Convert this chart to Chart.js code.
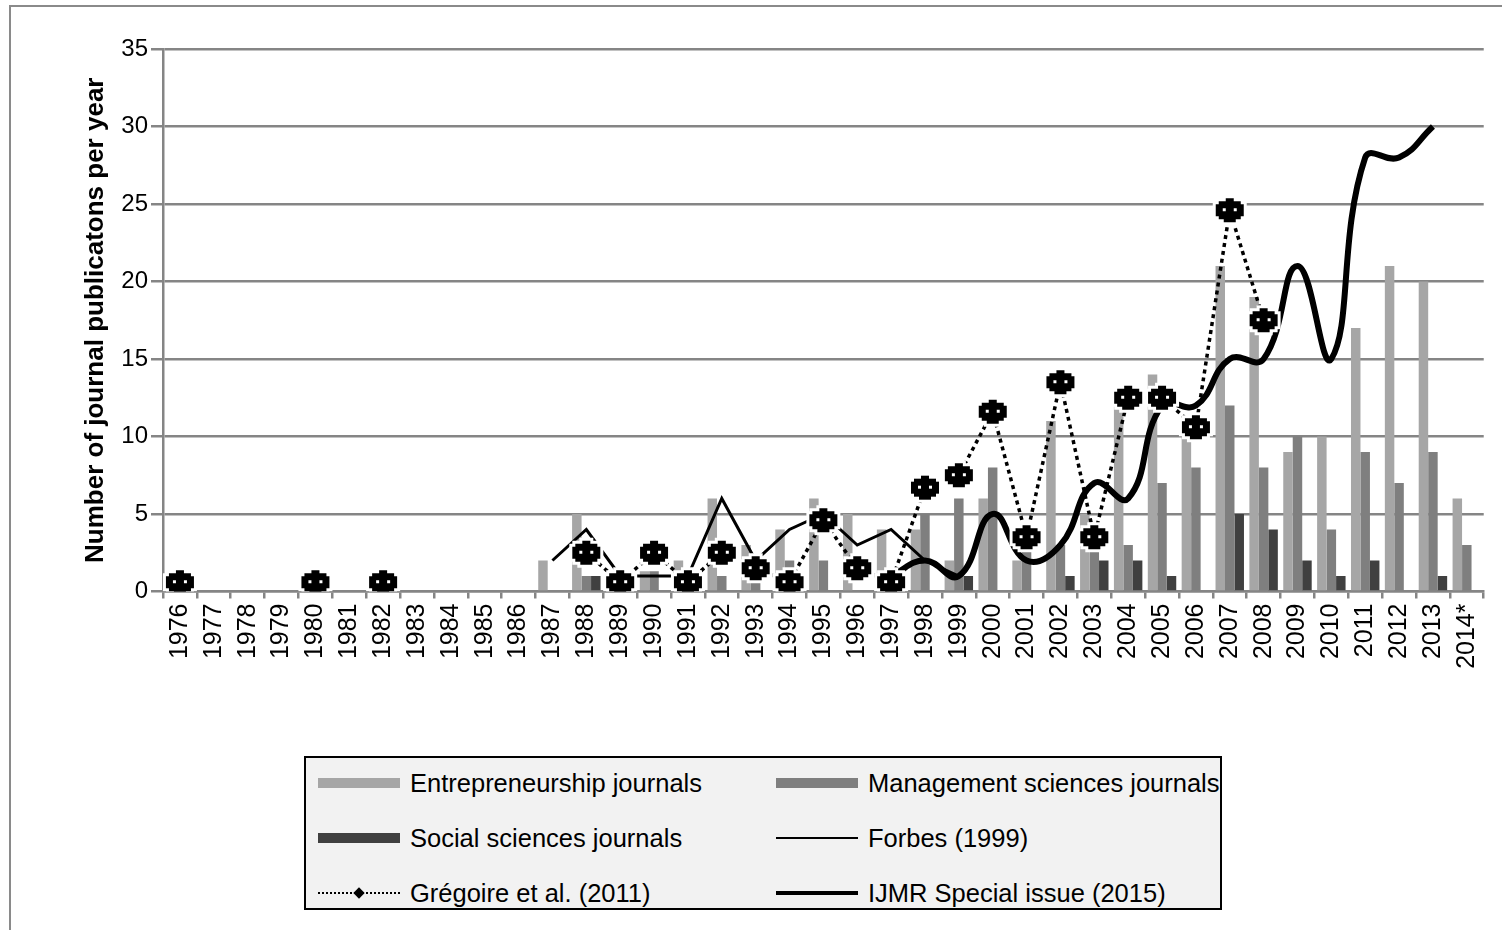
<!DOCTYPE html>
<html>
<head>
<meta charset="utf-8">
<script src="https://cdn.jsdelivr.net/npm/chart.js@4/dist/chart.umd.min.js"></script>
<style>
html,body{margin:0;padding:0;background:#fff;overflow:hidden;}
#wrap{position:relative;width:1502px;height:930px;font-family:"Liberation Sans",Arial,sans-serif;overflow:hidden;}
#frame{position:absolute;left:9px;top:5px;width:1500px;height:1000px;border:2px solid #8a8a8a;}
#c{position:absolute;left:0;top:0;}
#legend{position:absolute;left:304px;top:756px;width:914px;height:150px;background:#f2f2f2;border:2px solid #000;overflow:hidden;}
.item{position:absolute;height:30px;display:flex;align-items:center;font-size:25.5px;color:#000;white-space:nowrap;}
.sw{position:relative;width:82px;height:30px;margin-right:10px;flex:none;}
.bar{position:absolute;left:0;top:10px;width:82px;height:10px;}
.ln{position:absolute;left:0;width:82px;height:0;}
.dot{position:absolute;left:37px;top:11px;width:8px;height:8px;background:#000;transform:rotate(45deg);}
</style>
</head>
<body>
<div id="wrap">
  <div id="frame"></div>
  <canvas id="c" width="1502" height="930"></canvas>
  <div id="legend">
    <div class="item" style="left:12px;top:10px;"><div class="sw"><div class="bar" style="background:#a6a6a6"></div></div>Entrepreneurship journals</div>
    <div class="item" style="left:470px;top:10px;"><div class="sw"><div class="bar" style="background:#7f7f7f"></div></div>Management sciences journals</div>
    <div class="item" style="left:12px;top:65px;"><div class="sw"><div class="bar" style="background:#404040"></div></div>Social sciences journals</div>
    <div class="item" style="left:470px;top:65px;"><div class="sw"><div class="ln" style="top:14px;border-top:2.5px solid #000"></div></div>Forbes (1999)</div>
    <div class="item" style="left:12px;top:120px;"><div class="sw"><div class="ln" style="top:14px;border-top:2px dotted #000"></div><div class="dot"></div></div>Grégoire et al. (2011)</div>
    <div class="item" style="left:470px;top:120px;"><div class="sw"><div class="ln" style="top:13px;border-top:4.5px solid #000"></div></div>IJMR Special issue (2015)</div>
  </div>
</div>
<script>
const years = ['1976','1977','1978','1979','1980','1981','1982','1983','1984','1985','1986','1987','1988','1989','1990','1991','1992','1993','1994','1995','1996','1997','1998','1999','2000','2001','2002','2003','2004','2005','2006','2007','2008','2009','2010','2011','2012','2013','2014*'];

//                        1976 ........................................ 1986 | 1987 ...
const entrepreneurship = [0,0,0,0,0,0,0,0,0,0,0, 2,5,1,1.3,2,6,3,4,6,5,4,4,2,6,2,11,5,12,14,10,21,19,9,10,17,21,20,6];
const management       = [0,0,0,0,0,0,0,0,0,0,0, 0,1,0,1.3,0,1,1,2,2,0,0,5,6,8,3,3,3,3,7,8,12,8,10,4,9,7,9,3];
const social           = [0,0,0,0,0,0,0,0,0,0,0, 0,1,0,0,0,0,0,0,0,0,0,0,1,0,0,1,2,2,1,0,5,4,2,1,2,0,1,0];
const forbes           = [null,null,null,null,null,null,null,null,null,null,null, 2,4,1,1,1,6,2,4,5,3,4,2,1,null,null,null,null,null,null,null,null,null,null,null,null,null,null,null];
const gregoire         = [0.6,null,null,null,0.6,null,0.6,null,null,null,null, null,2.5,0.6,2.5,0.6,2.5,1.5,0.6,4.6,1.5,0.6,6.7,7.5,11.6,3.5,13.5,3.5,12.5,12.5,10.6,24.6,17.5,null,null,null,null,null,null];
const ijmr             = [null,null,null,null,null,null,null,null,null,null,null, null,null,null,null,null,null,null,null,null,null,1,2,1,5,2,3,7,6,12,12,15,15,21,15,28,28,30,null];

// marker image (black blob with two white "eyes", white halo)
function makeMarker(){
  const c = document.createElement('canvas');
  c.width = 36; c.height = 32;
  const g = c.getContext('2d');
  const cx = 18, cy = 16;
  const rows = [[-12,-9,-4,4],[-9,-6,-11,11],[-6,6,-14,14],[6,9,-11,11],[9,12,-6,6]];
  g.fillStyle = '#fff';
  rows.forEach(r=>g.fillRect(cx+r[2]-3, cy+r[0]-3, r[3]-r[2]+6, r[1]-r[0]+6));
  g.fillStyle = '#000';
  rows.forEach(r=>g.fillRect(cx+r[2], cy+r[0], r[3]-r[2], r[1]-r[0]));
  g.fillStyle = '#fff';
  g.fillRect(cx-7, cy-2, 3, 3);
  g.fillRect(cx+4, cy-2, 3, 3);
  return c;
}
const marker = makeMarker();

const FONT = '"Liberation Sans", Arial, sans-serif';

new Chart(document.getElementById('c'), {
  type: 'bar',
  data: {
    labels: years,
    datasets: [
      {label:'Gr\u00e9goire et al. (2011)', type:'line', data:gregoire, borderColor:'#000', borderWidth:3.5, borderDash:[4,4], pointStyle:marker, pointRadius:12, spanGaps:false, tension:0, order:0},
      {label:'IJMR Special issue (2015)', type:'line', data:ijmr, borderColor:'#000', borderWidth:6, pointRadius:0, tension:0.45, spanGaps:false, order:1},
      {label:'Forbes (1999)', type:'line', data:forbes, borderColor:'#000', borderWidth:3, pointRadius:0, tension:0, spanGaps:false, order:2},
      {label:'Entrepreneurship journals', data:entrepreneurship, backgroundColor:'#a6a6a6', order:3, categoryPercentage:0.84, barPercentage:1.0},
      {label:'Management sciences journals', data:management, backgroundColor:'#7f7f7f', order:3, categoryPercentage:0.84, barPercentage:1.0},
      {label:'Social sciences journals', data:social, backgroundColor:'#404040', order:3, categoryPercentage:0.84, barPercentage:1.0}
    ]
  },
  options: {
    responsive:false,
    animation:false,
    devicePixelRatio:1,
    layout:{padding:{left:0,right:12,top:49,bottom:0}},
    plugins:{legend:{display:false}, tooltip:{enabled:false}},
    scales:{
      x:{
        offset:true,
        grid:{display:true, drawOnChartArea:false, drawTicks:true, tickLength:7, color:'#858585', lineWidth:2.5, offset:true},
        border:{color:'#858585', width:2.5},
        ticks:{autoSkip:false, maxRotation:90, minRotation:90, color:'#000', font:{family:FONT, size:25}, padding:5},
        afterFit(s){ s.height = 338.5; }
      },
      y:{
        min:0, max:35,
        ticks:{stepSize:5, color:'#000', font:{family:FONT, size:24}, padding:3},
        grid:{color:'#858585', lineWidth:2.5, tickLength:12},
        border:{color:'#858585', width:2.5},
        title:{display:true, text:'Number of journal publicatons per year', color:'#000', font:{family:FONT, size:26, weight:'bold'}, padding:{top:80,bottom:0}},
        afterFit(s){ s.width = 163; }
      }
    }
  }
});
</script>
</body>
</html>
